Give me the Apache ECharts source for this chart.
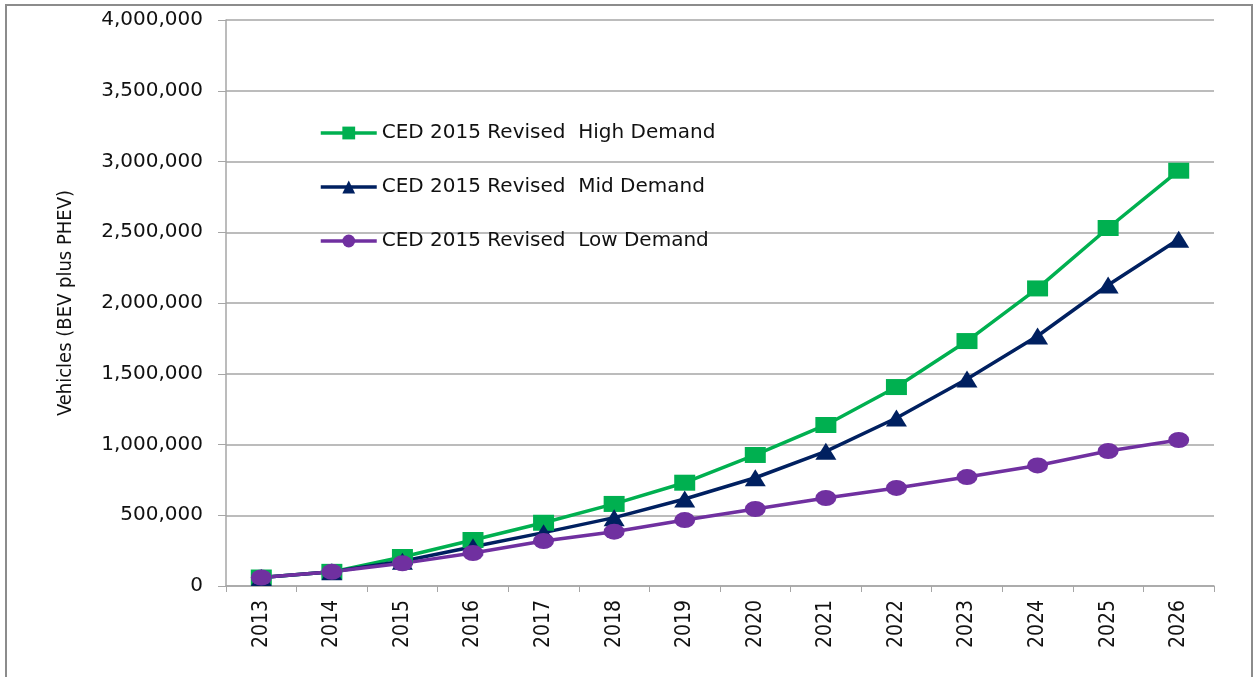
<!DOCTYPE html>
<html>
<head>
<meta charset="utf-8">
<script src="https://cdn.jsdelivr.net/npm/echarts@6/dist/echarts.min.js"></script>
<style>
  html, body { margin: 0; padding: 0; background: #fff; }
  #chart { width: 1255px; height: 677px; }
</style>
</head>
<body>
<div id="chart"></div>
<script>
var years = ['2013', '2014', '2015', '2016', '2017', '2018', '2019', '2020', '2021', '2022', '2023', '2024', '2025', '2026'];
var highDemand = [60000, 100000, 205000, 325000, 447000, 580000, 730000, 926000, 1138000, 1406000, 1731000, 2103000, 2530000, 2935000];
var midDemand = [60000, 100000, 175000, 278000, 377000, 483000, 615000, 765000, 952000, 1187000, 1463000, 1767000, 2127000, 2450000];
var lowDemand = [60000, 100000, 160000, 233000, 318000, 384000, 466000, 544000, 622000, 693000, 770000, 852000, 954000, 1032000];
var seriesNames = ['CED 2015 Revised  High Demand', 'CED 2015 Revised  Mid Demand', 'CED 2015 Revised  Low Demand'];

var narrow = 'DejaVu Sans Condensed, Liberation Sans Narrow, Arial Narrow, sans-serif';

var chart = echarts.init(document.getElementById('chart'));

function addCommas(v) {
    return String(v).replace(/\B(?=(\d{3})+(?!\d))/g, ',');
}

chart.setOption({
    animation: false,
    backgroundColor: '#fff',
    graphic: [{
        type: 'rect',
        shape: { x: 6, y: 5, width: 1246, height: 700 },
        style: { fill: 'none', stroke: '#8c8c8c', lineWidth: 2 }
    }],
    grid: { left: 226, right: 41, top: 20, bottom: 91 },
    legend: {
        orient: 'vertical',
        left: 314,
        top: 118,
        itemWidth: 56,
        itemHeight: 16,
        itemGap: 34,
        lineStyle: { width: 3.5 },
        textStyle: { fontFamily: 'DejaVu Sans', fontSize: 20, color: '#111' },
        data: seriesNames
    },
    xAxis: {
        type: 'category',
        data: years,
        boundaryGap: true,
        axisLine: { lineStyle: { color: '#a6a6a6', width: 1.5 } },
        axisTick: { show: true, length: 6, interval: 0, lineStyle: { color: '#a6a6a6' } },
        axisLabel: {
            rotate: 90,
            interval: 0,
            margin: 14,
            fontFamily: narrow,
            fontSize: 21,
            color: '#111'
        }
    },
    yAxis: {
        type: 'value',
        min: 0,
        max: 4000000,
        interval: 500000,
        name: 'Vehicles (BEV plus PHEV)',
        nameLocation: 'middle',
        nameRotate: 90,
        nameGap: 150,
        nameTextStyle: {
            fontFamily: narrow,
            fontSize: 20,
            color: '#111'
        },
        axisLine: { show: true, lineStyle: { color: '#a6a6a6', width: 1.5 } },
        axisTick: { show: true, length: 8, inside: false, lineStyle: { color: '#a6a6a6' } },
        axisLabel: {
            margin: 23,
            fontFamily: 'DejaVu Sans',
            fontSize: 20,
            color: '#111',
            formatter: addCommas
        },
        splitLine: { lineStyle: { color: '#a6a6a6', width: 1.5 } }
    },
    series: [{
        name: seriesNames[0],
        type: 'line',
        data: highDemand,
        symbol: 'rect',
        symbolSize: [21, 16],
        itemStyle: { color: '#00b050' },
        lineStyle: { color: '#00b050', width: 3.5 }
    }, {
        name: seriesNames[1],
        type: 'line',
        data: midDemand,
        symbol: 'triangle',
        symbolSize: [21, 17],
        itemStyle: { color: '#002060' },
        lineStyle: { color: '#002060', width: 3.5 }
    }, {
        name: seriesNames[2],
        type: 'line',
        data: lowDemand,
        symbol: 'circle',
        symbolSize: [21, 16],
        itemStyle: { color: '#7030a0' },
        lineStyle: { color: '#7030a0', width: 3.5 }
    }]
});
</script>
</body>
</html>
